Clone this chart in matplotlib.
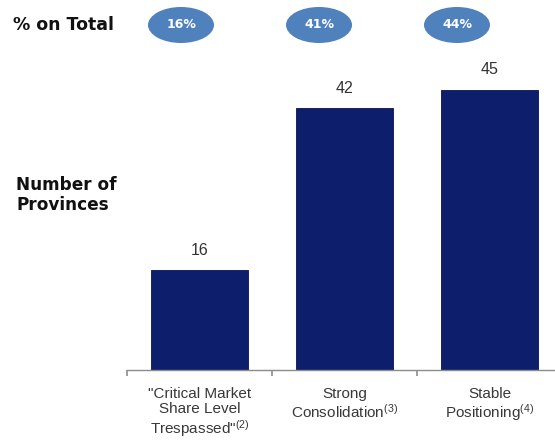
import matplotlib
matplotlib.use("Agg")
import matplotlib.pyplot as plt
from matplotlib.patches import Ellipse

plt.rcParams['font.family'] = ['Liberation Sans', 'DejaVu Sans']
plt.rcParams['mathtext.fontset'] = 'custom'
plt.rcParams['mathtext.rm'] = 'Liberation Sans'
plt.rcParams['mathtext.it'] = 'Liberation Sans:italic'

categories = ['"Critical Market\nShare Level\nTrespassed"$^{\\mathit{(2)}}$',
              'Strong\nConsolidation$^{\\mathit{(3)}}$',
              'Stable\nPositioning$^{\\mathit{(4)}}$']
provinces = [16, 42, 45]
share_labels = ['16%', '41%', '44%']

W, H = 555, 448
bar_color = '#0c1e6c'
pill_color = '#4f81bd'

fig = plt.figure(figsize=(W / 100, H / 100), dpi=100)
ax = fig.add_axes([127 / W, 78 / H, 435 / W, 311.5 / H])

x = list(range(len(provinces)))
bars = ax.bar(x, provinces, width=0.67, color=bar_color, edgecolor='#07124a', linewidth=0.6)
for b, v in zip(bars, provinces):
    ax.annotate(str(v), (b.get_x() + b.get_width() / 2, v), xytext=(0, 9),
                textcoords='offset points', ha='center', va='bottom',
                fontsize=11.5, color='#333333')

ax.set_xlim(-0.5, 2.5)
ax.set_ylim(0, 50)
ax.set_yticks([])
for s in ['top', 'right', 'left']:
    ax.spines[s].set_visible(False)
ax.spines['bottom'].set_color('#8c8c8c')
ax.spines['bottom'].set_linewidth(1.0)

# category boundaries get the tick marks, labels sit under the bars
ax.set_xticks([-0.5, 0.5, 1.5, 2.5])
ax.set_xticklabels([])
ax.tick_params(axis='x', which='major', direction='out', length=4, color='#8c8c8c', width=1.2)
ax.set_xticks(x, minor=True)
ax.set_xticklabels(categories, minor=True, fontsize=11, color='#383838', linespacing=1.12,
                   va='top')
ax.tick_params(axis='x', which='minor', length=0, pad=12)

# percentage pills along the top
pill_x = [181, 319, 457]
for px, lab in zip(pill_x, share_labels):
    e = Ellipse((px / W, 1 - 25 / H), 66 / W, 36 / H, transform=fig.transFigure,
                facecolor=pill_color, edgecolor='none')
    fig.patches.append(e)
    fig.text(px / W, 1 - 25 / H, lab, ha='center', va='center', color='white',
             fontsize=9, fontweight='bold', family='DejaVu Sans')

fig.text(13 / W, 1 - 25 / H, '% on Total', ha='left', va='center',
         fontsize=12.5, fontweight='bold', family='DejaVu Sans', color='#111111')
fig.text(16 / W, 1 - 195 / H, 'Number of\nProvinces', ha='left', va='center',
         fontsize=12.2, fontweight='bold', family='DejaVu Sans', color='#111111',
         linespacing=1.2)

fig.savefig('out.png', dpi=100)
